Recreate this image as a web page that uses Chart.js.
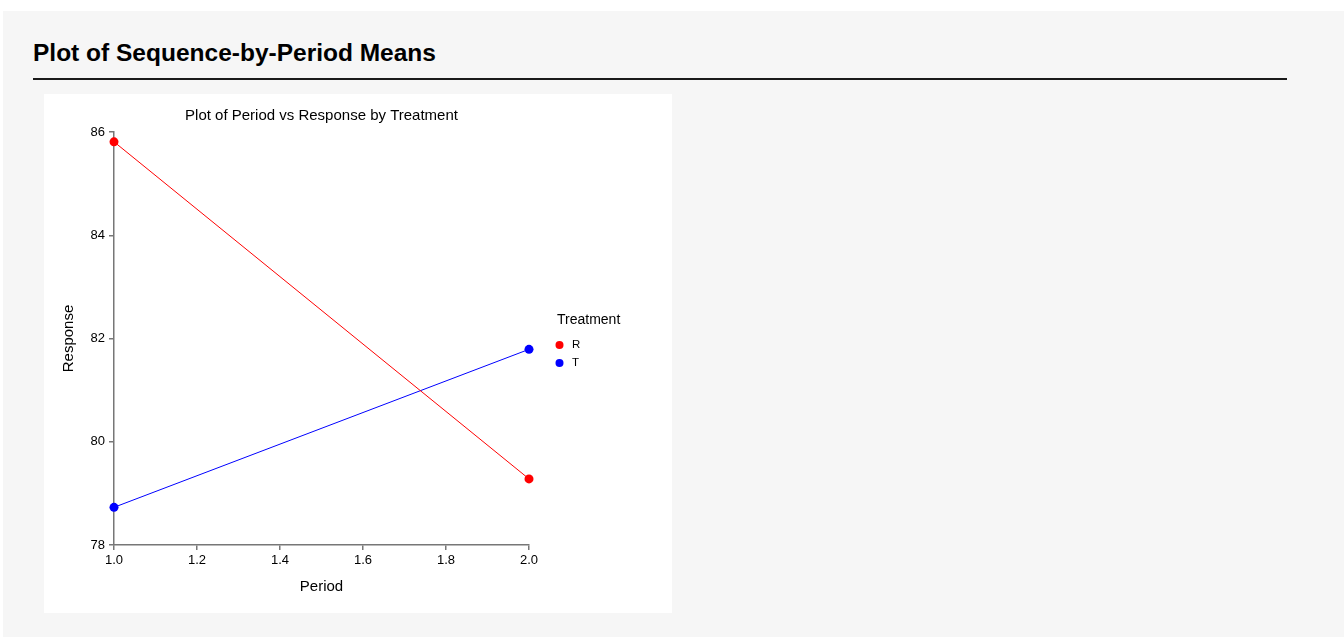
<!DOCTYPE html>
<html>
<head>
<meta charset="utf-8">
<script src="https://cdn.jsdelivr.net/npm/chart.js@4/dist/chart.umd.min.js"></script>
<style>
  html, body { margin: 0; padding: 0; background: #ffffff; width: 1344px; height: 637px; overflow: hidden; }
  #panel { position: absolute; left: 3px; top: 11px; width: 1341px; height: 626px; background: #f6f6f6; }
  #heading { position: absolute; left: 33px; top: 41px; font: bold 24.5px Arial, "Liberation Sans", sans-serif; line-height: 24px; color: #000; white-space: nowrap; }
  #rule { position: absolute; left: 33px; top: 78px; width: 1254px; height: 2px; background: #1a1a1a; }
  #box { position: absolute; left: 44px; top: 94px; width: 628px; height: 519px; background: #ffffff; }
  #chart { position: absolute; left: 0; top: 0; }
</style>
</head>
<body>
<div id="panel"></div>
<div id="heading">Plot of Sequence-by-Period Means</div>
<div id="rule"></div>
<div id="box"><canvas id="chart" width="628" height="519" style="width:628px;height:519px"></canvas></div>
<script>
// ---- data ----
const periods = [1.0, 2.0];
const seriesNames = ["R", "T"];
const valuesR = [85.81, 79.28];
const valuesT = [78.73, 81.79];
const xTicks = [1.0, 1.2, 1.4, 1.6, 1.8, 2.0];
const yTicks = [78, 80, 82, 84, 86];
const seriesColors = ["#ff0000", "#0000ff"];
const chartTitle = "Plot of Period vs Response by Treatment";
const xTitle = "Period";
const yTitle = "Response";
const legendTitle = "Treatment";

const FONT = 'Arial, "Liberation Sans", sans-serif';
const allValues = [valuesR, valuesT];

const datasets = seriesNames.map((name, i) => ({
  label: name,
  data: periods.map((p, j) => ({ x: p, y: allValues[i][j] })),
  showLine: true,
  clip: false,
  borderColor: seriesColors[i],
  backgroundColor: seriesColors[i],
  borderWidth: 1,
  pointRadius: 4.5,
  pointHoverRadius: 4.5,
  pointBorderWidth: 0
}));

const legendPlugin = {
  id: 'sideLegend',
  afterDraw(chart) {
    const ctx = chart.ctx;
    const ca = chart.chartArea;
    const mid = (ca.top + ca.bottom) / 2;
    const x0 = ca.right + 28;
    ctx.save();
    ctx.fillStyle = '#000';
    ctx.font = '14px ' + FONT;
    ctx.textAlign = 'left';
    ctx.textBaseline = 'middle';
    ctx.fillText(legendTitle, x0, mid - 18.5);
    chart.data.datasets.forEach((ds, i) => {
      const y = mid + 6.5 + i * 18;
      ctx.beginPath();
      ctx.fillStyle = ds.backgroundColor;
      ctx.arc(x0 + 2.5, y, 4, 0, Math.PI * 2);
      ctx.fill();
      ctx.fillStyle = '#000';
      ctx.font = '11.5px ' + FONT;
      ctx.fillText(ds.label, x0 + 15, y);
    });
    ctx.restore();
  }
};

const axisColor = '#777777';

new Chart(document.getElementById('chart'), {
  type: 'scatter',
  data: { datasets },
  options: {
    responsive: false,
    animation: false,
    events: [],
    layout: { padding: { left: 0, right: 143, top: 0, bottom: 0 } },
    plugins: {
      legend: { display: false },
      tooltip: { enabled: false },
      title: {
        display: true,
        text: chartTitle,
        fullSize: false,
        color: '#000',
        font: { family: FONT, size: 15, weight: 'normal' },
        padding: { top: 13, bottom: 7 }
      }
    },
    scales: {
      x: {
        type: 'linear',
        min: xTicks[0],
        max: xTicks[xTicks.length - 1],
        afterBuildTicks(scale) { scale.ticks = xTicks.map(v => ({ value: v })); },
        afterFit(scale) { scale.height = 68; },
        ticks: {
          color: '#000',
          font: { family: FONT, size: 13 },
          padding: 3,
          maxRotation: 0,
          callback: v => Number(v).toFixed(1)
        },
        grid: { drawOnChartArea: false, drawTicks: true, tickLength: 5, color: axisColor, lineWidth: 1.5 },
        border: { display: true, color: axisColor, width: 1.5 },
        title: {
          display: true,
          text: xTitle,
          color: '#000',
          font: { family: FONT, size: 15 },
          padding: { top: 0, bottom: 17.5 }
        }
      },
      y: {
        type: 'linear',
        min: yTicks[0],
        max: yTicks[yTicks.length - 1],
        afterBuildTicks(scale) { scale.ticks = yTicks.map(v => ({ value: v })); },
        afterFit(scale) { scale.width = 70; },
        ticks: {
          color: '#000',
          font: { family: FONT, size: 13 },
          padding: 4,
          callback: v => String(v)
        },
        grid: { drawOnChartArea: false, drawTicks: true, tickLength: 5, color: axisColor, lineWidth: 1.5 },
        border: { display: true, color: axisColor, width: 1.5 },
        title: {
          display: true,
          text: yTitle,
          color: '#000',
          font: { family: FONT, size: 15 },
          padding: { top: 15.5, bottom: 0 }
        }
      }
    }
  },
  plugins: [legendPlugin]
});
</script>
</body>
</html>
